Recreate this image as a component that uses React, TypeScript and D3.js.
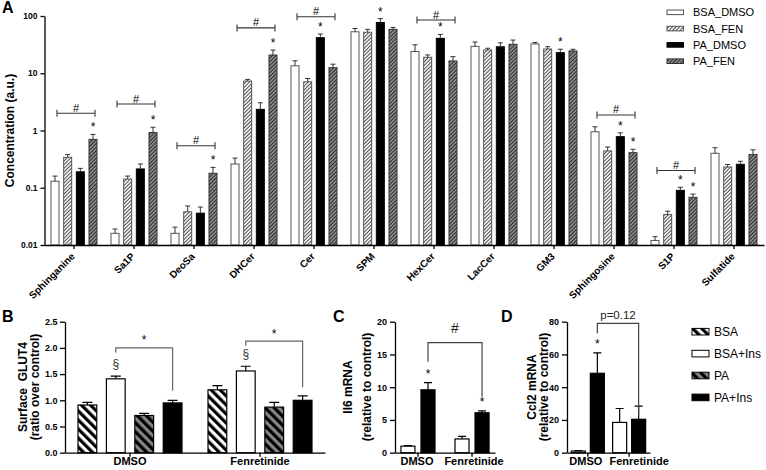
import React, { useRef, useEffect } from 'react'
import * as d3 from 'd3'

// ---- panel A: sphingolipids, log scale ----
const lipids = ['Sphinganine', 'Sa1P', 'DeoSa', 'DHCer', 'Cer', 'SPM', 'HexCer', 'LacCer', 'GM3', 'Sphingosine', 'S1P', 'Sulfatide']
const lipidSeries = ['BSA_DMSO', 'BSA_FEN', 'PA_DMSO', 'PA_FEN']
const bsaDmso = [0.13, 0.016, 0.016, 0.26, 13.5, 53, 24, 29.5, 32.5, 0.95, 0.012, 0.4]
const bsaDmsoErr = [0.03, 0.003, 0.0045, 0.07, 3, 7.5, 7.4, 5.6, 2, 0.21, 0.002, 0.1]
const bsaFen = [0.34, 0.142, 0.038, 7.3, 7.1, 52, 19, 25.5, 26.5, 0.44, 0.034, 0.23]
const bsaFenErr = [0.04, 0.018, 0.01, 0.5, 1, 6.5, 1.9, 1.8, 2.6, 0.075, 0.005, 0.025]
const paDmso = [0.19, 0.213, 0.036, 2.34, 41.8, 77, 40.7, 29, 22.9, 0.78, 0.09, 0.257]
const paDmsoErr = [0.028, 0.047, 0.01, 0.71, 6.7, 13, 7, 5, 3.4, 0.13, 0.012, 0.033]
const paFen = [0.7, 0.92, 0.179, 20.8, 12.5, 58.5, 16.4, 32, 24.5, 0.41, 0.068, 0.38]
const paFenErr = [0.155, 0.22, 0.048, 4.6, 1.9, 4.7, 3.1, 6, 1.7, 0.06, 0.0095, 0.08]
const lipidTicks = [0.01, 0.1, 1, 10, 100]
const lipidStarLipids = ['Sphinganine', 'Sa1P', 'DeoSa', 'DHCer', 'Cer', 'SPM', 'HexCer', 'GM3', 'Sphingosine', 'Sphingosine', 'S1P', 'S1P']
const lipidStarSeries = ['PA_FEN', 'PA_FEN', 'PA_FEN', 'PA_FEN', 'PA_DMSO', 'PA_DMSO', 'PA_DMSO', 'PA_DMSO', 'PA_DMSO', 'PA_FEN', 'PA_DMSO', 'PA_FEN']
const lipidHashLipids = ['Sphinganine', 'Sa1P', 'DeoSa', 'DHCer', 'Cer', 'HexCer', 'Sphingosine', 'S1P']
const lipidHashLevels = [2.0, 2.9, 0.54, 62, 97, 85, 1.87, 0.2]

// ---- panel B: surface GLUT4 ----
const treatments = ['DMSO', 'Fenretinide']
const glutSeries = ['BSA', 'BSA+Ins', 'PA', 'PA+Ins']
const glutBsa = [0.91, 1.2]
const glutBsaErr = [0.05, 0.08]
const glutBsaIns = [1.41, 1.56]
const glutBsaInsErr = [0.05, 0.09]
const glutPa = [0.71, 0.87]
const glutPaErr = [0.04, 0.09]
const glutPaIns = [0.95, 1.0]
const glutPaInsErr = [0.05, 0.085]
const glutTicks = [0, 0.5, 1, 1.5, 2, 2.5]
const glutBracketLevels = [2.0, 2.13]
const glutBracketLeftEnds = [1.91, 2.04]
const glutBracketRightEnds = [1.18, 1.25]

// ---- panels C and D: mRNA ----
const mrnaSeries = ['BSA+Ins', 'PA+Ins']
const il6BsaIns = [1.0, 2.1]
const il6BsaInsErr = [0.1, 0.4]
const il6PaIns = [9.6, 6.1]
const il6PaInsErr = [1.1, 0.3]
const il6Ticks = [0, 5, 10, 15, 20]
const il6Stars = ['DMSO', 'Fenretinide']
const il6Bracket = [16.8, 13.9, 8.55]
const ccl2BsaIns = [1.0, 18.5]
const ccl2BsaInsErr = [0.3, 8.5]
const ccl2PaIns = [48.5, 20.4]
const ccl2PaInsErr = [12.5, 8]
const ccl2Ticks = [0, 20, 40, 60, 80]
const ccl2Stars = ['DMSO']
const ccl2Bracket = [79, 72.9, 23]

const FONT = 'Arial, "Liberation Sans", Helvetica, sans-serif'

export default function App() {
    const chart = useRef<SVGSVGElement>(null)

    useEffect(() => {
        const svg = d3.select(chart.current)
        svg.selectAll('*').remove()
        svg.attr('font-family', FONT)
        addPatterns(svg)
        drawLipids(svg)
        drawGlut(svg)
        drawMrna(svg, {
            range: [395, 495], pIn: 0.37, pOut: 0.11, innerPad: 0.3, max: 20, ticks: il6Ticks,
            vals: [il6BsaIns, il6PaIns], errs: [il6BsaInsErr, il6PaInsErr], stars: il6Stars,
            bracket: il6Bracket, mark: '#', markSize: 14, markOffset: 10, labelShift: [-1, 2],
            letter: 'C', letterX: 333, titles: ['Il6 mRNA', '(relative to control)'], titleX: [352, 371],
        })
        drawMrna(svg, {
            range: [567, 650], pIn: 0.2, pOut: 0.105, innerPad: 0.26, max: 80, ticks: ccl2Ticks,
            vals: [ccl2BsaIns, ccl2PaIns], errs: [ccl2BsaInsErr, ccl2PaInsErr], stars: ccl2Stars,
            bracket: ccl2Bracket, mark: 'p=0.12', markSize: 11.5, markOffset: 4, labelShift: [-2, 10],
            letter: 'D', letterX: 501, titles: ['Ccl2 mRNA', '(relative to control)'], titleX: [536, 548],
        })
        drawLegendBCD(svg)
    }, [])

    return (
        <svg ref={chart} width={766} height={470}
            style={{ position: 'absolute', left: 0, top: 0, background: '#fff' }}></svg>
    )
}

function hatch(defs: any, id: string, size: number, lineW: number, bg: string, fg: string, angle: number) {
    const p = defs.append('pattern')
        .attr('id', id)
        .attr('patternUnits', 'userSpaceOnUse')
        .attr('width', size)
        .attr('height', size)
        .attr('patternTransform', `rotate(${angle})`)
    p.append('rect').attr('width', size).attr('height', size).attr('fill', bg)
    p.append('rect').attr('width', lineW).attr('height', size).attr('fill', fg)
}

function addPatterns(svg: any) {
    const defs = svg.append('defs')
    hatch(defs, 'hA1', 2.6, 0.9, '#f4f4f4', '#444', 45)
    hatch(defs, 'hA2', 2.6, 0.9, '#8c8c8c', '#222', 45)
    hatch(defs, 'hB1', 6.4, 3.2, '#fff', '#000', -45)
    hatch(defs, 'hB2', 6.4, 3.2, '#858585', '#000', -45)
}

function styleAxis(g: any, size: number) {
    g.attr('font-family', FONT).attr('font-size', size).attr('font-weight', 'bold')
    g.select('.domain').attr('stroke-width', 1.3)
    g.selectAll('.tick line').attr('stroke-width', 1.3)
}

function errPath(cx: number, top: number, errTop: number, cap: number) {
    return `M${cx},${top}V${errTop}M${cx - cap},${errTop}H${cx + cap}`
}

function bracketPath(xa: number, xb: number, yl: number, ya: number, yb: number) {
    return `M${xa},${ya}V${yl}H${xb}V${yb}`
}

function drawLipids(svg: any) {
    const x0 = d3.scaleBand().domain(lipids).range([44, 764])
    const x1 = d3.scaleBand().domain(lipidSeries).range([7, 53]).paddingInner(0.368)
    const y = d3.scaleLog().domain([0.01, 100]).range([245, 16])
    const bw = x1.bandwidth()
    const values = [bsaDmso, bsaFen, paDmso, paFen]
    const errs = [bsaDmsoErr, bsaFenErr, paDmsoErr, paFenErr]
    const fills = ['#fff', 'url(#hA1)', '#000', 'url(#hA2)']
    const strokes = ['#555', '#555', '#000', '#333']
    const cx = (l: string, s: string) => (x0(l) as number) + (x1(s) as number) + bw / 2

    lipidSeries.forEach((s, j) => {
        const g = svg.append('g')
        g.selectAll('rect')
            .data(lipids)
            .join('rect')
            .attr('x', (d: string) => (x0(d) as number) + (x1(s) as number))
            .attr('y', (d: string, i: number) => y(values[j][i]))
            .attr('width', bw)
            .attr('height', (d: string, i: number) => y(0.01) - y(values[j][i]))
            .attr('fill', fills[j])
            .attr('stroke', strokes[j])
            .attr('stroke-width', 1)
        g.selectAll('path')
            .data(lipids)
            .join('path')
            .attr('d', (d: string, i: number) => errPath(cx(d, s), y(values[j][i]), y(values[j][i] + errs[j][i]), 2.5))
            .attr('fill', 'none')
            .attr('stroke', '#333')
            .attr('stroke-width', 1)
    })

    // y axis
    const ya = svg.append('g')
        .attr('transform', 'translate(44.5,0)')
        .call(d3.axisLeft(y).tickValues(lipidTicks).tickFormat((d: any) => String(d)).tickSize(4).tickSizeOuter(0).tickPadding(3))
    styleAxis(ya, 8.5)

    // x axis
    const xa = svg.append('g')
        .attr('transform', 'translate(0,245)')
        .call(d3.axisBottom(x0).tickSize(4).tickSizeOuter(0).tickFormat(() => ''))
    styleAxis(xa, 10)

    svg.append('g')
        .selectAll('text')
        .data(lipids)
        .join('text')
        .attr('transform', (d: string) => `translate(${(x0(d) as number) + x0.bandwidth() / 2 + 1.5},257) rotate(-45)`)
        .attr('text-anchor', 'end')
        .attr('font-size', 10)
        .attr('font-weight', 'bold')
        .text((d: string) => d)

    // stars
    svg.append('g')
        .selectAll('text')
        .data(lipidStarLipids)
        .join('text')
        .attr('x', (d: string, k: number) => cx(d, lipidStarSeries[k]))
        .attr('y', (d: string, k: number) => {
            const j = lipidSeries.indexOf(lipidStarSeries[k])
            const i = lipids.indexOf(d)
            return y(values[j][i] + errs[j][i]) - 3
        })
        .attr('text-anchor', 'middle')
        .attr('font-size', 12)
        .text('*')

    // # brackets
    const hg = svg.append('g')
    lipidHashLipids.forEach((l, k) => {
        const xs = cx(l, 'BSA_DMSO') + 2
        const xe = cx(l, 'PA_FEN') + 2
        const yl = y(lipidHashLevels[k])
        hg.append('path')
            .attr('d', `M${xs},${yl}H${xe}M${xs},${yl - 3.5}V${yl + 3.5}M${xe},${yl - 3.5}V${yl + 3.5}`)
            .attr('stroke', '#333')
            .attr('stroke-width', 1.1)
            .attr('fill', 'none')
        hg.append('text')
            .attr('x', (xs + xe) / 2)
            .attr('y', yl - 1.5)
            .attr('text-anchor', 'middle')
            .attr('font-size', 11)
            .text('#')
    })

    // title, letter, legend
    svg.append('text')
        .attr('transform', 'translate(14,130.5) rotate(-90)')
        .attr('text-anchor', 'middle')
        .attr('font-size', 12)
        .attr('font-weight', 'bold')
        .text('Concentration (a.u.)')
    svg.append('text').attr('x', 2).attr('y', 13).attr('font-size', 16).attr('font-weight', 'bold').text('A')

    const lg = svg.append('g')
    lipidSeries.forEach((s, i) => {
        const cy = 12.3 + i * 16.3
        lg.append('rect')
            .attr('x', 667).attr('y', cy - 2.3).attr('width', 16.5).attr('height', 4.6)
            .attr('fill', fills[i]).attr('stroke', strokes[i]).attr('stroke-width', 1)
        lg.append('text').attr('x', 693).attr('y', cy + 4).attr('font-size', 11).text(s)
    })
}

function drawGlut(svg: any) {
    const x0 = d3.scaleBand().domain(treatments).range([65, 325]).paddingInner(0.2).paddingOuter(0.1)
    const x1 = d3.scaleBand().domain(glutSeries).range([0, x0.bandwidth()]).paddingInner(0.34)
    const y = d3.scaleLinear().domain([0, 2.5]).range([452.7, 321.7])
    const bw = x1.bandwidth()
    const values = [glutBsa, glutBsaIns, glutPa, glutPaIns]
    const errs = [glutBsaErr, glutBsaInsErr, glutPaErr, glutPaInsErr]
    const fills = ['url(#hB1)', '#fff', 'url(#hB2)', '#000']
    const cx = (t: string, s: string) => (x0(t) as number) + (x1(s) as number) + bw / 2

    glutSeries.forEach((s, j) => {
        const g = svg.append('g')
        g.selectAll('rect')
            .data(treatments)
            .join('rect')
            .attr('x', (d: string) => (x0(d) as number) + (x1(s) as number))
            .attr('y', (d: string, i: number) => y(values[j][i]))
            .attr('width', bw)
            .attr('height', (d: string, i: number) => y(0) - y(values[j][i]))
            .attr('fill', fills[j])
            .attr('stroke', '#000')
            .attr('stroke-width', 1.2)
        g.selectAll('path')
            .data(treatments)
            .join('path')
            .attr('d', (d: string, i: number) => errPath(cx(d, s), y(values[j][i]), y(values[j][i] + errs[j][i]), 5))
            .attr('fill', 'none')
            .attr('stroke', '#000')
            .attr('stroke-width', 1.2)
    })

    const ya = svg.append('g')
        .attr('transform', 'translate(65,0)')
        .call(d3.axisLeft(y).tickValues(glutTicks).tickFormat(d3.format('.1f')).tickSize(5).tickSizeOuter(0).tickPadding(2.5))
    styleAxis(ya, 9)
    const xa = svg.append('g')
        .attr('transform', 'translate(0,452.7)')
        .call(d3.axisBottom(x0).tickSize(4).tickSizeOuter(0).tickPadding(1))
    styleAxis(xa, 11)

    // § over BSA+Ins, bracket with * to PA+Ins
    treatments.forEach((t, i) => {
        const xs = cx(t, 'BSA+Ins')
        const xe = cx(t, 'PA+Ins')
        svg.append('text')
            .attr('x', xs).attr('y', y(glutBsaIns[i] + glutBsaInsErr[i]) - 8)
            .attr('text-anchor', 'middle').attr('font-size', 12).attr('fill', '#333')
            .text('§')
        const yl = y(glutBracketLevels[i])
        svg.append('path')
            .attr('d', bracketPath(xs, xe, yl, y(glutBracketLeftEnds[i]), y(glutBracketRightEnds[i])))
            .attr('fill', 'none').attr('stroke', '#666').attr('stroke-width', 1.2)
        svg.append('text')
            .attr('x', (xs + xe) / 2).attr('y', yl - 3.5)
            .attr('text-anchor', 'middle').attr('font-size', 12)
            .text('*')
    })

    svg.append('text').attr('x', 2).attr('y', 322).attr('font-size', 16).attr('font-weight', 'bold').text('B')
    svg.append('text')
        .attr('transform', 'translate(27,387) rotate(-90)')
        .attr('text-anchor', 'middle').attr('font-size', 12).attr('font-weight', 'bold')
        .attr('xml:space', 'preserve')
        .text('Surface  GLUT4')
    svg.append('text')
        .attr('transform', 'translate(39,387) rotate(-90)')
        .attr('text-anchor', 'middle').attr('font-size', 12).attr('font-weight', 'bold')
        .text('(ratio over control)')
}

function drawMrna(svg: any, o: any) {
    const x0 = d3.scaleBand().domain(treatments).range(o.range).paddingInner(o.pIn).paddingOuter(o.pOut)
    const x1 = d3.scaleBand().domain(mrnaSeries).range([0, x0.bandwidth()]).paddingInner(o.innerPad)
    const y = d3.scaleLinear().domain([0, o.max]).range([452.7, 321.7])
    const bw = x1.bandwidth()
    const fills = ['#fff', '#000']
    const cx = (t: string, s: string) => (x0(t) as number) + (x1(s) as number) + bw / 2

    mrnaSeries.forEach((s, j) => {
        const g = svg.append('g')
        g.selectAll('rect')
            .data(treatments)
            .join('rect')
            .attr('x', (d: string) => (x0(d) as number) + (x1(s) as number))
            .attr('y', (d: string, i: number) => y(o.vals[j][i]))
            .attr('width', bw)
            .attr('height', (d: string, i: number) => y(0) - y(o.vals[j][i]))
            .attr('fill', fills[j])
            .attr('stroke', '#000')
            .attr('stroke-width', 1.2)
        g.selectAll('path')
            .data(treatments)
            .join('path')
            .attr('d', (d: string, i: number) => errPath(cx(d, s), y(o.vals[j][i]), y(o.vals[j][i] + o.errs[j][i]), 4))
            .attr('fill', 'none')
            .attr('stroke', '#000')
            .attr('stroke-width', 1.2)
    })

    const x0px = o.range[0]
    const ya = svg.append('g')
        .attr('transform', `translate(${x0px},0)`)
        .call(d3.axisLeft(y).tickValues(o.ticks).tickFormat(d3.format('d')).tickSize(5).tickSizeOuter(0).tickPadding(3))
    styleAxis(ya, 9)
    const xa = svg.append('g')
        .attr('transform', 'translate(0,452.7)')
        .call(d3.axisBottom(x0).tickSize(4).tickSizeOuter(0).tickPadding(1))
    styleAxis(xa, 11)
    xa.selectAll('.tick text').attr('dx', (d: string) => o.labelShift[treatments.indexOf(d)])

    // stars above PA+Ins
    o.stars.forEach((t: string) => {
        const i = treatments.indexOf(t)
        svg.append('text')
            .attr('x', cx(t, 'PA+Ins')).attr('y', y(o.vals[1][i] + o.errs[1][i]) - 4.5)
            .attr('text-anchor', 'middle').attr('font-size', 12)
            .text('*')
    })

    const xs = cx('DMSO', 'PA+Ins')
    const xe = cx('Fenretinide', 'PA+Ins')
    const yl = y(o.bracket[0])
    svg.append('path')
        .attr('d', bracketPath(xs, xe, yl, y(o.bracket[1]), y(o.bracket[2])))
        .attr('fill', 'none').attr('stroke', '#444').attr('stroke-width', 1.2)
    svg.append('text')
        .attr('x', (xs + xe) / 2).attr('y', yl - o.markOffset)
        .attr('text-anchor', 'middle').attr('font-size', o.markSize)
        .attr('fill', '#222')
        .text(o.mark)

    svg.append('text').attr('x', o.letterX).attr('y', 322).attr('font-size', 16).attr('font-weight', 'bold').text(o.letter)
    o.titles.forEach((t: string, k: number) => {
        svg.append('text')
            .attr('transform', `translate(${o.titleX[k]},387) rotate(-90)`)
            .attr('text-anchor', 'middle').attr('font-size', 12).attr('font-weight', 'bold')
            .text(t)
    })
}

function drawLegendBCD(svg: any) {
    const fills = ['url(#hB1)', '#fff', 'url(#hB2)', '#000']
    const lg = svg.append('g')
    glutSeries.forEach((s, i) => {
        const cy = 331.7 + i * 21.9
        lg.append('rect')
            .attr('x', 692).attr('y', cy - 3.3).attr('width', 17).attr('height', 6.6)
            .attr('fill', fills[i]).attr('stroke', '#000').attr('stroke-width', 1)
        lg.append('text').attr('x', 714).attr('y', cy + 4.3).attr('font-size', 12).text(s)
    })
}
